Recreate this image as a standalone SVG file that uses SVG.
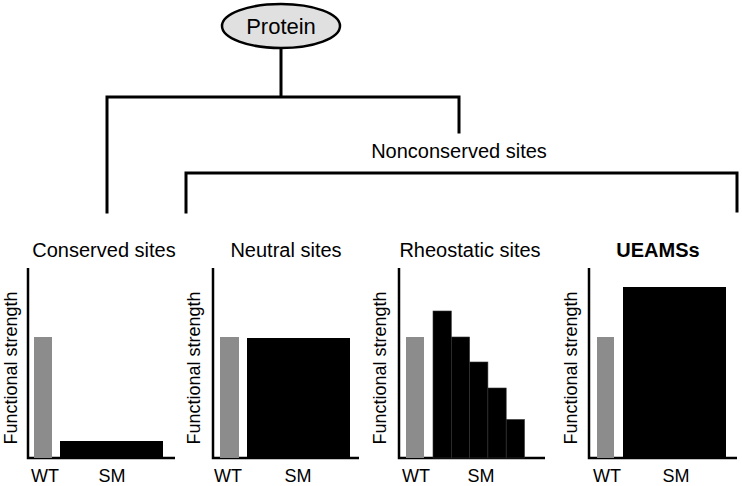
<svg xmlns="http://www.w3.org/2000/svg" width="742" height="486" viewBox="0 0 742 486">
<style>
text{font-family:"Liberation Sans",Arial,sans-serif;fill:#000}
.title{font-size:20px;text-anchor:middle}
.ax{font-size:18px;text-anchor:middle}
.tick{font-size:18px;text-anchor:middle}
.conn{fill:none;stroke:#000;stroke-width:3;stroke-linecap:square}
.axis{fill:none;stroke:#000;stroke-width:2.5}
.wt{fill:#8c8c8c}
.sm{fill:#000}
</style>
<rect width="742" height="486" fill="#fff"/>
<g id="connectors">
<path class="conn" d="M281,48 V97 M107,212 V97 H459 V132"/>
<path class="conn" d="M186,212 V173 H737 V211"/>
</g>
<g id="protein">
<ellipse cx="281" cy="26" rx="59" ry="22" fill="#e0e0e0" stroke="#000" stroke-width="2.5"/>
<text x="281" y="34" style="font-size:22px;text-anchor:middle">Protein</text>
</g>
<g id="nonconserved">
<text x="459" y="158" class="title">Nonconserved sites</text>
</g>
<g id="conserved">
<text x="104" y="257" class="title">Conserved sites</text>
<path class="axis" d="M28,268 V458 H175"/>
<rect class="wt" x="34" y="337" width="18" height="121"/>
<rect class="sm" x="60" y="441" width="103" height="17"/>
<text class="ax" transform="translate(17,368) rotate(-90)">Functional strength</text>
<text class="tick" x="45" y="482">WT</text>
<text class="tick" x="112" y="482">SM</text>
</g>
<g id="neutral">
<text x="286" y="257" class="title">Neutral sites</text>
<path class="axis" d="M213,268 V458 H359"/>
<rect class="wt" x="220" y="337" width="19" height="121"/>
<rect class="sm" x="247" y="338" width="103" height="120"/>
<text class="ax" transform="translate(200,368) rotate(-90)">Functional strength</text>
<text class="tick" x="228" y="482">WT</text>
<text class="tick" x="298" y="482">SM</text>
</g>
<g id="rheostatic">
<text x="470" y="257" class="title">Rheostatic sites</text>
<path class="axis" d="M399,268 V458 H545"/>
<rect class="wt" x="406" y="337" width="18" height="121"/>
<g class="sm" stroke="#333" stroke-width="0.6">
<rect x="433" y="311" width="18.3" height="147"/>
<rect x="451.3" y="337" width="18.3" height="121"/>
<rect x="469.6" y="362" width="18.3" height="96"/>
<rect x="487.9" y="388" width="18.3" height="70"/>
<rect x="506.2" y="419.5" width="18.3" height="38.5"/>
</g>
<text class="ax" transform="translate(386,368) rotate(-90)">Functional strength</text>
<text class="tick" x="416" y="482">WT</text>
<text class="tick" x="481" y="482">SM</text>
</g>
<g id="ueamss">
<text x="658" y="257" class="title" style="font-weight:bold">UEAMSs</text>
<path class="axis" d="M589,268 V458 H737"/>
<rect class="wt" x="597" y="337" width="17" height="121"/>
<rect class="sm" x="623" y="287" width="103" height="171"/>
<text class="ax" transform="translate(577,368) rotate(-90)">Functional strength</text>
<text class="tick" x="607" y="482">WT</text>
<text class="tick" x="676" y="482">SM</text>
</g>
</svg>
